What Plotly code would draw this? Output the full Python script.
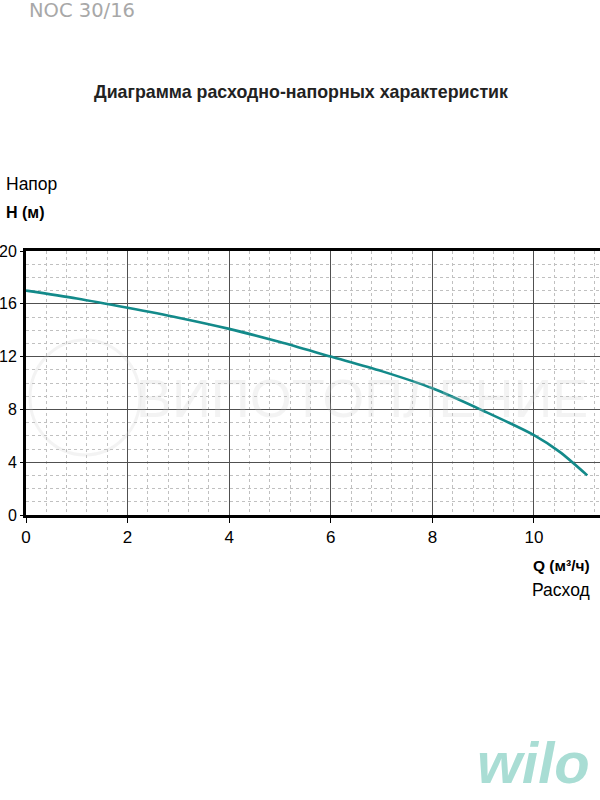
import plotly.graph_objects as go

# расход Q, м3/ч  и  напор H, м
q_flow = [0, 1, 2, 3, 4, 5, 6, 7, 8, 9, 10, 10.5, 11.05]
h_head = [17.0, 16.4, 15.7, 14.95, 14.1, 13.1, 12.0, 10.9, 9.6, 7.9, 6.05, 4.8, 3.0]

x_ticks = [0, 2, 4, 6, 8, 10]
y_ticks = [0, 4, 8, 12, 16, 20]

font = "Liberation Sans, Arial, sans-serif"

fig = go.Figure()
fig.add_trace(go.Scatter(x=q_flow, y=h_head, mode="lines",
                         line=dict(color="#138a8a", width=2.6, shape="spline", smoothing=0.8),
                         hoverinfo="skip", showlegend=False))

fig.update_xaxes(range=[0, 11.3], tickvals=x_ticks, showgrid=True, automargin=False,
                 gridcolor="#505050", gridwidth=1.3,
                 minor=dict(dtick=0.4, tick0=0, showgrid=True, gridcolor="#c0c0c0",
                            griddash="dot", gridwidth=1),
                 showline=True, linecolor="black", linewidth=3, mirror=True,
                 ticks="outside", ticklen=5, tickcolor="black",
                 tickfont=dict(size=17, color="black", family=font), zeroline=False)
fig.update_yaxes(range=[0, 20], tickvals=y_ticks, showgrid=True, automargin=False,
                 gridcolor="#505050", gridwidth=1.3,
                 minor=dict(dtick=1, tick0=0, showgrid=True, gridcolor="#c0c0c0",
                            griddash="dot", gridwidth=1),
                 showline=True, linecolor="black", linewidth=3,
                 ticks="outside", ticklen=3, tickcolor="black", ticklabelstandoff=0,
                 tickfont=dict(size=16, color="black", family=font), zeroline=False)

ann = [
    dict(text="NOC 30/16", x=27, y=10, font=dict(size=19.5, color="#a8a8a8", family="DejaVu Sans"), xanchor="left"),
    dict(text="<b>Диаграмма расходно-напорных характеристик</b>", x=301, y=92,
         font=dict(size=17.8, color="#222222", family=font), xanchor="center"),
    dict(text="Напор", x=4, y=184, font=dict(size=17.5, color="black", family=font), xanchor="left"),
    dict(text="<b>H (м)</b>", x=4, y=213, font=dict(size=16, color="black", family=font), xanchor="left"),
    dict(text="<b>Q (м³/ч)</b>", x=592, y=565, font=dict(size=15.5, color="black", family=font), xanchor="right"),
    dict(text="Расход", x=592, y=590, font=dict(size=17.5, color="black", family=font), xanchor="right"),
    dict(text="ВИПОТОПЛЕНИЕ", x=362, y=398, font=dict(size=54, color="rgba(200,200,200,0.22)", family=font),
         xanchor="center"),
    dict(text="<b><i>wilo</i></b>", x=592, y=762, font=dict(size=58, color="#a9ddd4", family=font),
         xanchor="right"),
]
annotations = []
for a in ann:
    annotations.append(dict(xref="paper", yref="paper", showarrow=False, yanchor="middle",
                            text=a["text"], x=(a["x"] - 26) / 574, y=(515 - a["y"]) / 264,
                            xanchor=a["xanchor"], font=a["font"]))

fig.update_layout(width=600, height=800, margin=dict(l=26, r=0, t=251, b=285),
                  plot_bgcolor="white", paper_bgcolor="white",
                  annotations=annotations,
                  shapes=[dict(type="circle", xref="paper", yref="paper",
                               x0=(30 - 26) / 574, x1=(140 - 26) / 574,
                               y0=(515 - 455) / 264, y1=(515 - 340) / 264,
                               line=dict(color="rgba(200,200,200,0.22)", width=3))])

fig.write_html("out.html", config={"displayModeBar": False},
               post_script="document.body.style.margin='0px';")
